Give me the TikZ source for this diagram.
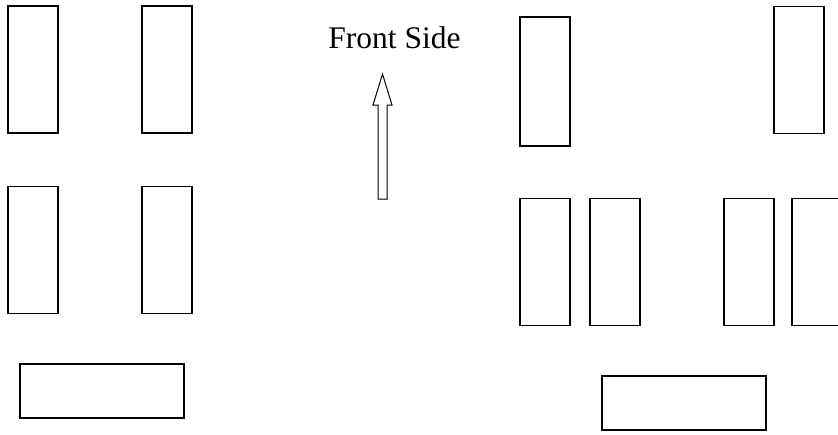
\documentclass[tikz,border=0pt]{standalone}
\usepackage{fontspec}
\setmainfont{Liberation Serif}
\begin{document}
\begin{tikzpicture}[x=1pt,y=-1pt,
  desk/.style={draw=black, line width=1.5pt, rectangle, inner sep=0pt, outer sep=0pt, fill=white},
  tall/.style={desk, minimum width=50pt, minimum height=127pt},
  wide/.style={desk, minimum width=164pt, minimum height=54pt}]
  \useasboundingbox (0,0) rectangle (838,434);
  \clip (0,0) rectangle (838,434);
  % left group
  \node[tall] (l1) at (33,69.5) {};
  \node[tall] (l2) at (167,69.5) {};
  \node[tall] (l3) at (33,250) {};
  \node[tall] (l4) at (167,250) {};
  \node[wide] (l5) at (102,391) {};
  % right group
  \node[tall, minimum height=129pt] (r1) at (545,81.5) {};
  \node[tall] (r2) at (799,70) {};
  \node[tall] (r3) at (545,262) {};
  \node[tall] (r4) at (615,262) {};
  \node[tall] (r5) at (749,262) {};
  \node[tall] (r6) at (817,262) {};
  \node[wide] (r7) at (684,403) {};
  % heading and direction arrow
  \node[font=\fontsize{31.5}{36}\selectfont, anchor=base, inner sep=0pt] (front) at (394.5,48) {Front Side};
  \draw[line width=1pt, line join=miter]
    (378,199) -- (378,105) -- (373,105) -- (382.5,74) -- (392,105)
    -- (387,105) -- (387,199) -- cycle;
\end{tikzpicture}
\end{document}
